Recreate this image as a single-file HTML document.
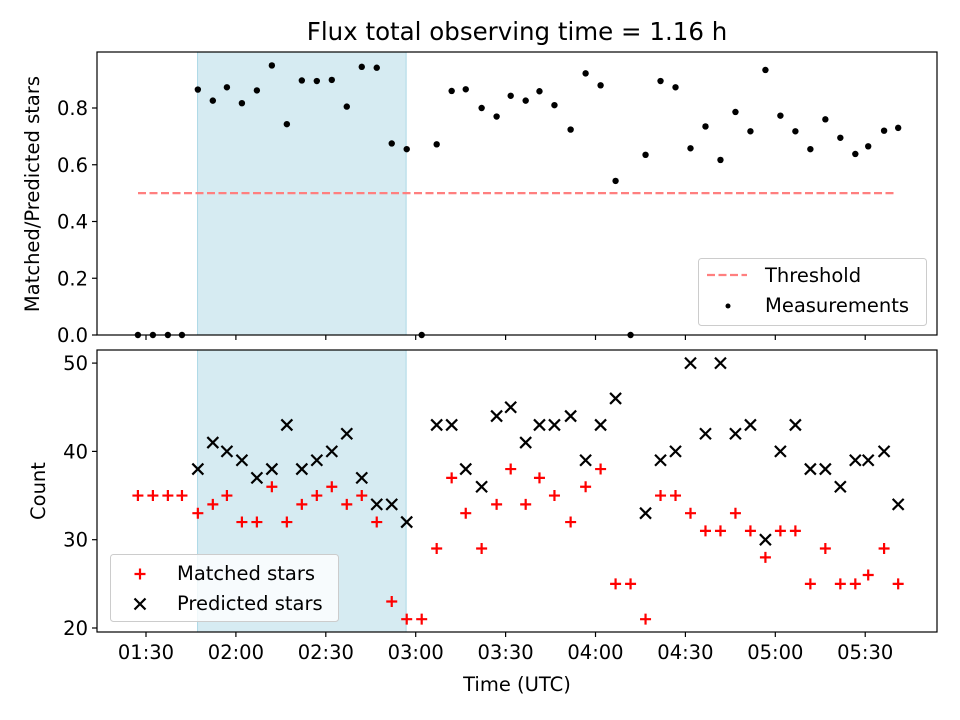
<!DOCTYPE html>
<html><head><meta charset="utf-8"><style>
body{margin:0;background:#fff}
svg{display:block;font-family:"DejaVu Sans","Liberation Sans",sans-serif}
</style></head><body>
<svg id="chart" width="960" height="720" viewBox="0 0 960 720" xmlns="http://www.w3.org/2000/svg"></svg>
<script>
// minutes since 00:00 UTC
const times=[87.3,92.3,97.3,102,107.3,112.3,117,122,127,132,137,142,147,152,157,162,167,172,177,182,187,192,196.7,202,207,211.7,216.7,221.3,226.3,231.7,236.7,241.7,246.7,251.7,256.7,261.7,266.7,271.7,276.7,281.7,286.7,291.7,296.7,301.7,306.7,311.7,316.7,321.7,326.7,331,336.3,341];
const ratios=[0,0,0,0,0.865,0.826,0.873,0.817,0.862,0.95,0.743,0.897,0.895,0.899,0.805,0.945,0.942,0.675,0.655,0,0.672,0.86,0.866,0.80,0.77,0.843,0.826,0.859,0.81,0.724,0.922,0.88,0.543,0,0.635,0.895,0.873,0.658,0.735,0.617,0.786,0.718,0.934,0.773,0.718,0.655,0.760,0.695,0.638,0.665,0.72,0.73];
const matched=[35,35,35,35,33,34,35,32,32,36,32,34,35,36,34,35,32,23,21,21,29,37,33,29,34,38,34,37,35,32,36,38,25,25,21,35,35,33,31,31,33,31,28,31,31,25,29,25,25,26,29,25];
const predicted=[null,null,null,null,38,41,40,39,37,38,43,38,39,40,42,37,34,34,32,null,43,43,38,36,44,45,41,43,43,44,39,43,46,null,33,39,40,50,42,50,42,43,30,40,43,38,38,36,39,39,40,34];
const xTicks=[90,120,150,180,210,240,270,300,330];
const xTickLabels=["01:30","02:00","02:30","03:00","03:30","04:00","04:30","05:00","05:30"];
const topTicks=[0,0.2,0.4,0.6,0.8];
const botTicks=[20,30,40,50];
const threshold=0.5;
const shadeSpan=[107.2,176.8];

const NS="http://www.w3.org/2000/svg";
const svg=document.getElementById('chart');
function mk(tag,attrs,parent){const e=document.createElementNS(NS,tag);for(const k in attrs)e.setAttribute(k,attrs[k]);(parent||svg).appendChild(e);return e;}
const L=97,R=937,T1=52,B1=335,T2=350,B2=632;
const FS=19.5;
const X=m=>146+(m-90)*2.9967;
const Y1=v=>335-v*283.75;
const Y2=v=>628-(v-20)*8.83;

let t=mk('text',{x:517,y:40,'text-anchor':'middle','font-size':'24.5'});t.textContent='Flux total observing time = 1.16 h';



function panel(T,B,name){
  const g=mk('g',{});
  
  
  const s=mk('rect',{x:X(shadeSpan[0]),y:T,width:X(shadeSpan[1])-X(shadeSpan[0]),height:B-T,fill:'#add8e6','fill-opacity':0.5,stroke:'#add8e6'},g);
  
  
  return g;
}
function frame(T,B,g){mk('rect',{x:L,y:T,width:R-L,height:B-T,fill:'none',stroke:'#000','stroke-width':1.2},g);}

const g1=panel(T1,B1,'ratio-panel');
const th=mk('line',{x1:138,x2:895,y1:Y1(threshold),y2:Y1(threshold),stroke:'#ff7f7f','stroke-width':2.2,'stroke-dasharray':'8,3.5'},g1);


times.forEach((m,i)=>{
  const c=mk('circle',{cx:X(m),cy:Y1(ratios[i]),r:3.2,fill:'#000'},g1);
  
  
});
frame(T1,B1,g1);
topTicks.forEach(v=>{
  mk('line',{x1:L-5,x2:L,y1:Y1(v),y2:Y1(v),stroke:'#000','stroke-width':1.2},g1);
  const tx=mk('text',{x:L-9,y:Y1(v)+7,'text-anchor':'end','font-size':FS},g1);tx.textContent=v.toFixed(1);
  
  
});
xTicks.forEach(m=>mk('line',{x1:X(m),x2:X(m),y1:B1,y2:B1+5,stroke:'#000','stroke-width':1.2},g1));
let yl=mk('text',{x:39,y:194,'text-anchor':'middle','font-size':FS,transform:'rotate(-90 39 194)'});yl.textContent='Matched/Predicted stars';



const lg1=mk('g',{});


mk('rect',{x:698.5,y:258.5,width:228,height:67,rx:3,fill:'#fff','fill-opacity':0.8,stroke:'#ccc'},lg1);
mk('line',{x1:707,x2:747,y1:275,y2:275,stroke:'#ff7f7f','stroke-width':2.2,'stroke-dasharray':'8,3.5'},lg1);
let lt=mk('text',{x:765,y:282,'font-size':FS},lg1);lt.textContent='Threshold';
mk('circle',{cx:728,cy:306,r:2.5,fill:'#000'},lg1);
lt=mk('text',{x:765,y:312,'font-size':FS},lg1);lt.textContent='Measurements';

const g2=panel(T2,B2,'count-panel');
function plus(x,y,g){return mk('path',{d:`M${x-5.5},${y}H${x+5.5}M${x},${y-5.5}V${y+5.5}`,stroke:'#f00','stroke-width':2.2},g);}
function cross(x,y,g){return mk('path',{d:`M${x-5.5},${y-5.5}L${x+5.5},${y+5.5}M${x-5.5},${y+5.5}L${x+5.5},${y-5.5}`,stroke:'#000','stroke-width':2.2},g);}
times.forEach((m,i)=>{
  const p=plus(X(m),Y2(matched[i]),g2);
  
  
  if(predicted[i]!==null){
    const c=cross(X(m),Y2(predicted[i]),g2);
    
    
  }
});
frame(T2,B2,g2);
botTicks.forEach(v=>{
  mk('line',{x1:L-5,x2:L,y1:Y2(v),y2:Y2(v),stroke:'#000','stroke-width':1.2},g2);
  const tx=mk('text',{x:L-9,y:Y2(v)+7,'text-anchor':'end','font-size':FS},g2);tx.textContent=v;
  
  
});
xTicks.forEach((m,i)=>{
  mk('line',{x1:X(m),x2:X(m),y1:B2,y2:B2+5,stroke:'#000','stroke-width':1.2},g2);
  const tx=mk('text',{x:X(m),y:B2+27,'text-anchor':'middle','font-size':FS},g2);tx.textContent=xTickLabels[i];
  
  
});
yl=mk('text',{x:45,y:491,'text-anchor':'middle','font-size':FS,transform:'rotate(-90 45 491)'});yl.textContent='Count';


let xl=mk('text',{x:517,y:691,'text-anchor':'middle','font-size':FS});xl.textContent='Time (UTC)';



const lg2=mk('g',{});


mk('rect',{x:110.5,y:554.5,width:228,height:67,rx:3,fill:'#fff','fill-opacity':0.8,stroke:'#ccc'},lg2);
plus(140,574,lg2);
lt=mk('text',{x:177,y:580,'font-size':FS},lg2);lt.textContent='Matched stars';
cross(140,604,lg2);
lt=mk('text',{x:177,y:610,'font-size':FS},lg2);lt.textContent='Predicted stars';
</script>
</body></html>
